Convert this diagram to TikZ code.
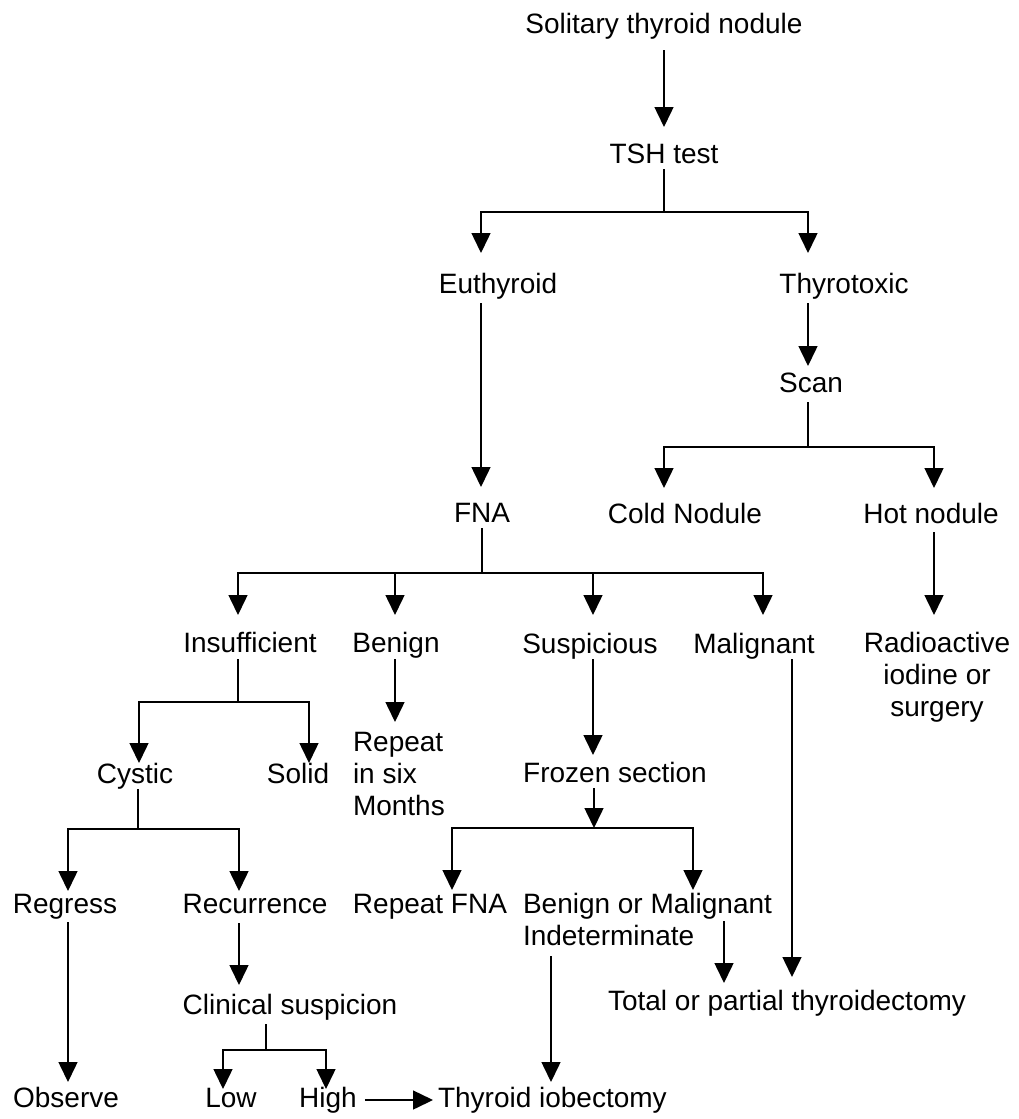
\documentclass[tikz,border=0pt]{standalone}
\usepackage{fontspec}
\setmainfont{Liberation Sans}
\usetikzlibrary{arrows.meta}
\begin{document}
\begin{tikzpicture}[x=1pt,y=-1pt,
  lbl/.style={inner sep=0pt, outer sep=0pt, text height=20pt, text depth=6pt, anchor=base, font=\fontsize{28}{32}\selectfont},
  mlbl/.style={inner sep=0pt, outer sep=0pt, anchor=north, font=\fontsize{28}{32}\selectfont},
  ln/.style={line width=1.5pt},
  arr/.style={ln, -{Triangle[width=19pt,length=20pt]}}]
\useasboundingbox (0,0) rectangle (1019,1119);

% nodes
\node[lbl] (sol) at (664,33) {Solitary thyroid nodule};
\node[lbl] (tsh) at (664,163) {TSH test};
\node[lbl] (eu) at (498,293) {Euthyroid};
\node[lbl] (thy) at (844,293) {Thyrotoxic};
\node[lbl] (scan) at (811,392) {Scan};
\node[lbl] (fna) at (482,522) {FNA};
\node[lbl] (cold) at (685,523) {Cold Nodule};
\node[lbl] (hot) at (931,523) {Hot nodule};
\node[lbl] (ins) at (250,652) {Insufficient};
\node[lbl] (ben) at (396,652) {Benign};
\node[lbl] (sus) at (590,653) {Suspicious};
\node[lbl] (mal) at (754,653) {Malignant};
\node[mlbl, align=center] (rad) at (937,632) {Radioactive\\iodine or\\surgery};
\node[lbl] (cys) at (135,783) {Cystic};
\node[lbl] (sol2) at (298,783) {Solid};
\node[mlbl, align=left, anchor=north west] (rep) at (353,732) {Repeat\\in six\\Months};
\node[lbl] (froz) at (615,782) {Frozen section};
\node[lbl] (reg) at (65,913) {Regress};
\node[lbl] (rec) at (255,913) {Recurrence};
\node[lbl] (rfna) at (430,913) {Repeat FNA};
\node[mlbl, align=left, anchor=north west] (bom) at (523,893) {Benign or Malignant\\Indeterminate};
\node[lbl] (clin) at (290,1014) {Clinical suspicion};
\node[lbl] (tot) at (787,1010) {Total or partial thyroidectomy};
\node[lbl] (obs) at (66,1107) {Observe};
\node[lbl] (low) at (231,1107) {Low};
\node[lbl] (high) at (328,1107) {High};
\node[lbl, anchor=base west] (thyl) at (438,1107) {Thyroid iobectomy};

% junction coordinates
\coordinate (j1) at (664,212); \coordinate (j1l) at (481,212); \coordinate (j1r) at (808,212);
\coordinate (j2) at (808,447); \coordinate (j2l) at (664,447); \coordinate (j2r) at (934,447);
\coordinate (j3) at (482,573); \coordinate (j3a) at (238,573); \coordinate (j3b) at (395,573);
\coordinate (j3c) at (593,573); \coordinate (j3d) at (763,573);
\coordinate (j4) at (238,702); \coordinate (j4l) at (139,702); \coordinate (j4r) at (309,702);
\coordinate (j5) at (594,828); \coordinate (j5l) at (452,828); \coordinate (j5r) at (693,828);
\coordinate (j6) at (138,829); \coordinate (j6l) at (68,829); \coordinate (j6r) at (239,829);
\coordinate (j7) at (266,1050); \coordinate (j7l) at (223,1050); \coordinate (j7r) at (326,1050);
\coordinate (cb) at (551,956);
\coordinate (cm) at (724,921);
\coordinate (cmal) at (792,0);

% connectors
\draw[arr, shorten <=11pt, shorten >=16pt] (sol.south) -- (tsh.north);
\draw[ln] (tsh.south) -- (j1);
\draw[arr, shorten >=20pt] (j1) -| (j1l |- eu.north);
\draw[arr, shorten >=20pt] (j1) -| (j1r |- thy.north);
\draw[arr, shorten <=4pt, shorten >=15pt] (eu.south -| j1l) -- (fna.north -| j1l);
\draw[arr, shorten <=4pt, shorten >=6pt] (thy.south -| j1r) -- (scan.north -| j1r);
\draw[ln, shorten <=4pt] (scan.south -| j2) -- (j2);
\draw[arr, shorten >=15pt] (j2) -| (j2l |- cold.north);
\draw[arr, shorten >=15pt] (j2) -| (j2r |- hot.north);
\draw[arr, shorten <=3pt, shorten >=17pt] (hot.south -| j2r) -- (rad.north -| j2r);

\draw[ln] (fna.south) -- (j3);
\draw[arr, shorten >=17pt] (j3) -| (j3a |- ins.north);
\draw[arr, shorten >=17pt] (j3) -| (j3b |- ben.north);
\draw[arr, shorten >=18pt] (j3) -| (j3c |- sus.north);
\draw[arr, shorten >=18pt] (j3) -| (j3d |- mal.north);

\draw[ln, shorten <=1pt] (ins.south -| j4) -- (j4);
\draw[arr] (j4) -| (j4l |- cys.north);
\draw[arr] (j4) -| (j4r |- sol2.north);

\draw[arr, shorten <=1pt, shorten >=10pt] (ben.south -| j3b) -- (rep.north -| j3b);

\draw[arr, shorten >=7pt] (sus.south -| j3c) -- (froz.north -| j3c);
\draw[arr] (froz.south -| j5) -- (j5);
\draw[arr, shorten >=3pt] (j5) -| (j5l |- rfna.north);
\draw[arr, shorten >=3pt] (j5) -| (j5r |- bom.north);

\draw[ln] (cys.south -| j6) -- (j6);
\draw[arr, shorten >=2pt] (j6) -| (j6l |- reg.north);
\draw[arr, shorten >=2pt] (j6) -| (j6r |- rec.north);
\draw[arr, shorten <=3pt, shorten >=5pt] (reg.south -| j6l) -- (obs.north -| j6l);
\draw[arr, shorten <=4pt, shorten >=9pt] (rec.south -| j6r) -- (clin.north -| j6r);

\draw[ln, shorten <=4pt] (clin.south -| j7) -- (j7);
\draw[arr, shorten >=-2pt] (j7) -| (j7l |- low.north);
\draw[arr, shorten >=-2pt] (j7) -| (j7r |- high.north);
\draw[arr, shorten <=8pt, shorten >=5pt] (high.east) -- (thyl.west);

\draw[arr, shorten >=5pt] (cb) -- (cb |- thyl.north);
\draw[arr, shorten >=7pt] (cm) -- (cm |- tot.north);
\draw[arr, shorten >=13pt] (mal.south -| cmal) -- (tot.north -| cmal);
\end{tikzpicture}
\end{document}
